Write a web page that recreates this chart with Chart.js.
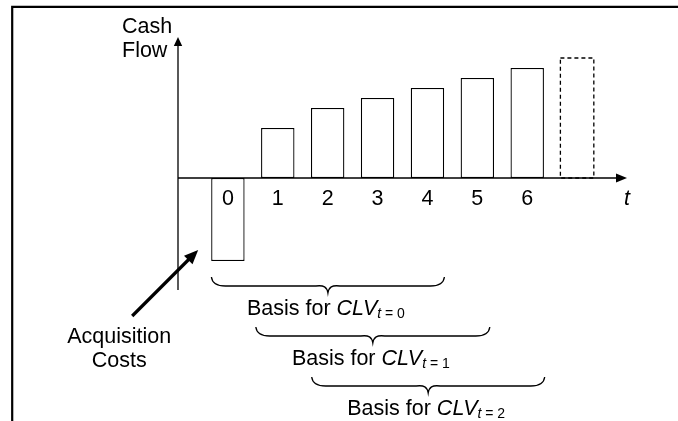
<!DOCTYPE html>
<html>
<head>
<meta charset="utf-8">
<script src="https://cdn.jsdelivr.net/npm/chart.js@4.4.1/dist/chart.umd.min.js"></script>
<style>
  html, body { margin: 0; padding: 0; background: #fff; }
  #wrap { width: 678px; height: 421px; }
</style>
</head>
<body>
<div id="wrap"><canvas id="cf" width="678" height="421"></canvas></div>
<script>
// periods and cash flows (y in arbitrary units)
const periods = [0, 1, 2, 3, 4, 5, 6];
const cashFlows = [-83, 50, 70, 80, 90, 100, 110];
const futurePeriods = [7];
const futureCashFlows = [120];

const tickValues = [-1, 0, 1, 2, 3, 4, 5, 6, 7, 8];
const tickLabels = ['', '0', '1', '2', '3', '4', '5', '6', '', 't'];

// the three "Basis for CLV" braces, in period units
const basisStart = [-0.33, 0.56, 1.68];
const basisEnd = [4.34, 5.25, 6.35];
const basisSubscripts = ['0', '1', '2'];

const FONT = 'Arial, "Liberation Sans", sans-serif';
const INK = '#000';

function arrowHead(ctx, tipX, tipY, fromX, fromY, len, half) {
    const a = Math.atan2(tipY - fromY, tipX - fromX);
    ctx.beginPath();
    ctx.moveTo(tipX, tipY);
    ctx.lineTo(tipX - len * Math.cos(a) + half * Math.sin(a), tipY - len * Math.sin(a) - half * Math.cos(a));
    ctx.lineTo(tipX - len * Math.cos(a) - half * Math.sin(a), tipY - len * Math.sin(a) + half * Math.cos(a));
    ctx.closePath();
    ctx.fill();
}

function drawBrace(ctx, xa, xb, yTop) {
    const yLine = yTop + 9;
    const yTip = yTop + 16;
    const xm = (xa + xb) / 2;
    ctx.beginPath();
    ctx.moveTo(xa, yTop);
    ctx.quadraticCurveTo(xa + 1, yLine, xa + 14, yLine);
    ctx.lineTo(xm - 12, yLine);
    ctx.bezierCurveTo(xm - 4, yLine - 1, xm - 1, yLine + 1, xm, yTip);
    ctx.bezierCurveTo(xm + 1, yLine + 1, xm + 4, yLine - 1, xm + 12, yLine);
    ctx.lineTo(xb - 14, yLine);
    ctx.quadraticCurveTo(xb - 1, yLine, xb, yTop);
    ctx.stroke();
}

function basisLabel(ctx, cx, baseline, sub) {
    const big = '21.5px ' + FONT;
    const bigI = 'italic 21.5px ' + FONT;
    const small = '14px ' + FONT;
    const smallI = 'italic 14px ' + FONT;
    const parts = [
        { t: 'Basis for ', f: big, dy: 0 },
        { t: 'CLV', f: bigI, dy: 0 },
        { t: 't', f: smallI, dy: 3 },
        { t: ' = ' + sub, f: small, dy: 3 }
    ];
    let total = 0;
    parts.forEach(p => { ctx.font = p.f; p.w = ctx.measureText(p.t).width; total += p.w; });
    let x = cx - total / 2;
    ctx.textAlign = 'left';
    ctx.textBaseline = 'alphabetic';
    parts.forEach(p => { ctx.font = p.f; ctx.fillText(p.t, x, baseline + p.dy); x += p.w; });
}

const diagram = {
    id: 'diagram',
    afterDatasetsDraw(chart) {
        const { ctx, scales: { x, y } } = chart;
        const x0 = x.getPixelForValue(-1);
        const xEnd = x.getPixelForValue(8);
        const y0 = y.getPixelForValue(0);
        ctx.save();
        ctx.strokeStyle = INK;
        ctx.fillStyle = INK;

        // frame (left and top only)
        ctx.lineWidth = 2.2;
        ctx.beginPath();
        ctx.moveTo(12.2, 421);
        ctx.lineTo(12.2, 6.8);
        ctx.lineTo(678, 6.8);
        ctx.stroke();

        // dashed future bar
        const fut = chart.getDatasetMeta(1).data[0];
        const fp = fut.getProps(['x', 'y', 'base', 'width'], true);
        ctx.lineWidth = 1.3;
        ctx.setLineDash([4, 3]);
        ctx.strokeRect(fp.x - fp.width / 2, fp.y, fp.width, fp.base - fp.y);
        ctx.setLineDash([]);

        // axes with arrow heads
        ctx.lineWidth = 1.3;
        ctx.beginPath();
        ctx.moveTo(x0, y.bottom);
        ctx.lineTo(x0, y.top + 6);
        ctx.moveTo(x0, y0);
        ctx.lineTo(xEnd - 8, y0);
        ctx.stroke();
        arrowHead(ctx, x0, y.top, x0, y.top + 20, 9, 4.2);
        arrowHead(ctx, xEnd, y0, xEnd - 20, y0, 11, 4.5);

        // axis title
        ctx.font = '21.5px ' + FONT;
        ctx.textAlign = 'left';
        ctx.textBaseline = 'alphabetic';
        ctx.fillText('Cash', x0 - 56, y.top - 4);
        ctx.fillText('Flow', x0 - 56, y.top + 20);

        // acquisition cost arrow
        const b0 = chart.getDatasetMeta(0).data[0].getProps(['x', 'y', 'width'], true);
        const tipX = b0.x - b0.width / 2 - 13;
        const tipY = b0.y - 11;
        const tailX = tipX - 66;
        const tailY = tipY + 66;
        ctx.lineWidth = 3.2;
        ctx.beginPath();
        ctx.moveTo(tailX, tailY);
        ctx.lineTo(tipX - 6, tipY + 6);
        ctx.stroke();
        arrowHead(ctx, tipX, tipY, tailX, tailY, 14, 6);
        ctx.font = '21.5px ' + FONT;
        ctx.textAlign = 'center';
        ctx.fillText('Acquisition', tailX - 13, tailY + 27);
        ctx.fillText('Costs', tailX - 13, tailY + 51);

        // braces and their labels
        ctx.lineWidth = 1.3;
        basisStart.forEach((s, i) => {
            const xa = x.getPixelForValue(s);
            const xb = x.getPixelForValue(basisEnd[i]);
            const yTop = y.bottom - 13 + 50 * i;
            drawBrace(ctx, xa, xb, yTop);
            basisLabel(ctx, (xa + xb) / 2 - 2, yTop + 38, basisSubscripts[i]);
        });
        ctx.restore();
    }
};

new Chart(document.getElementById('cf'), {
    type: 'bar',
    data: {
        datasets: [
            {
                data: periods.map((p, i) => ({ x: p, y: cashFlows[i] })),
                backgroundColor: '#fff',
                borderColor: INK,
                borderWidth: 1.3,
                borderSkipped: false,
                grouped: false,
                categoryPercentage: 1,
                barPercentage: 0.67
            },
            {
                data: futurePeriods.map((p, i) => ({ x: p, y: futureCashFlows[i] })),
                backgroundColor: 'rgba(0,0,0,0)',
                borderWidth: 0,
                grouped: false,
                categoryPercentage: 1,
                barPercentage: 0.67
            }
        ]
    },
    options: {
        responsive: false,
        animation: false,
        devicePixelRatio: 1,
        layout: { padding: { left: 178, top: 37, right: 51, bottom: 131 } },
        plugins: { legend: { display: false }, tooltip: { enabled: false } },
        scales: {
            x: {
                type: 'linear',
                position: { y: 0 },
                offset: false,
                min: -1,
                max: 8,
                afterFit: s => { s.paddingLeft = 0; s.paddingRight = 0; },
                grid: { display: false, drawTicks: false },
                border: { display: false },
                ticks: {
                    z: 1,
                    stepSize: 1,
                    autoSkip: false,
                    maxRotation: 0,
                    padding: 8,
                    color: INK,
                    font: c => ({ family: FONT, size: 21.5, style: c.tick && c.tick.value === 8 ? 'italic' : 'normal' }),
                    callback: v => {
                        const k = tickValues.indexOf(v);
                        return k >= 0 ? tickLabels[k] : '';
                    }
                }
            },
            y: { display: false, min: -112, max: 141 }
        }
    },
    plugins: [diagram]
});
</script>
</body>
</html>
